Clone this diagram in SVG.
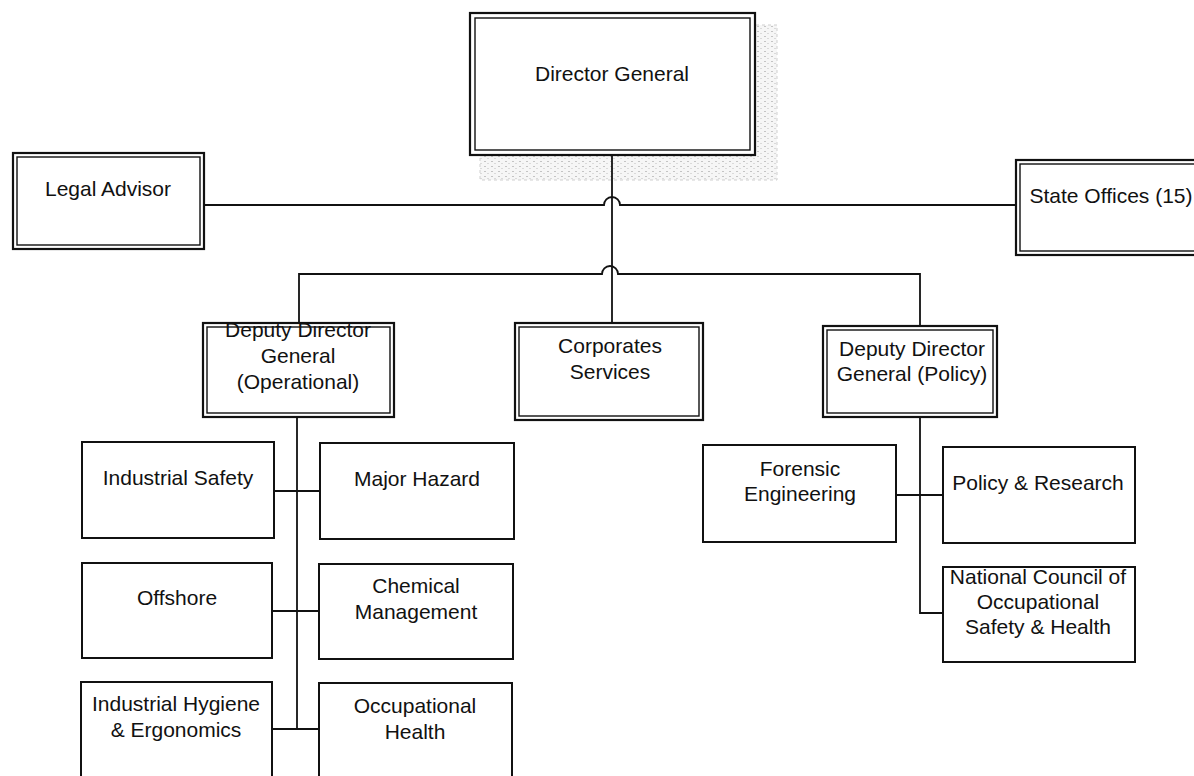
<svg xmlns="http://www.w3.org/2000/svg" width="1194" height="776" viewBox="0 0 1194 776">
<style>
.o{fill:#fff;stroke:#111;stroke-width:2.2}
.i{fill:none;stroke:#111;stroke-width:1.4}
.s{fill:#fff;stroke:#111;stroke-width:2}
.c{fill:none;stroke:#111;stroke-width:1.8}
text{font-family:"Liberation Sans",Arial,sans-serif;font-size:21px;fill:#111;text-anchor:middle}
</style>
<defs>
<pattern id="speck" width="7" height="5" patternUnits="userSpaceOnUse">
<rect width="7" height="5" fill="#f6f6f6"/>
<rect x="1" y="1" width="2" height="1" fill="#c4c4c4"/>
<rect x="4" y="3" width="2" height="1" fill="#dadada"/>
</pattern>
</defs>
<rect width="1194" height="776" fill="#fff"/>
<rect x="480" y="25" width="297" height="155" fill="url(#speck)" stroke="#cfcfcf" stroke-dasharray="3 3"/>
<g id="connectors">
<path class="c" d="M612,155 V323"/>
<path class="c" d="M204,205 H604 A8,8 0 0 1 620,205 H1016"/>
<path class="c" d="M299,323 V274 H602 A8,8 0 0 1 618,274 H920 V326"/>
<path class="c" d="M297,417 V729"/>
<path class="c" d="M274,491 H320"/>
<path class="c" d="M272,611 H319"/>
<path class="c" d="M272,729 H319"/>
<path class="c" d="M920,417 V613 H943"/>
<path class="c" d="M896,495 H943"/>
</g>
<g id="director-general">
<rect class="o" x="470" y="13" width="285" height="142"/>
<rect class="i" x="475" y="18" width="275" height="132"/>
<text x="612" y="81">Director General</text>
</g>
<g id="legal-advisor">
<rect class="o" x="13" y="153" width="191" height="96"/>
<rect class="i" x="17" y="157" width="183" height="88"/>
<text x="108" y="196">Legal Advisor</text>
</g>
<g id="state-offices">
<rect class="o" x="1016" y="160" width="190" height="95"/>
<rect class="i" x="1020" y="164" width="190" height="87"/>
<text x="1111" y="203">State Offices (15)</text>
</g>
<g id="ddg-operational">
<rect class="o" x="203" y="323" width="191" height="94"/>
<rect class="i" x="207" y="327" width="183" height="86"/>
<text x="298" y="337">Deputy Director</text>
<text x="298" y="363">General</text>
<text x="298" y="389">(Operational)</text>
</g>
<g id="corporates-services">
<rect class="o" x="515" y="323" width="188" height="97"/>
<rect class="i" x="519" y="327" width="180" height="89"/>
<text x="610" y="353">Corporates</text>
<text x="610" y="379">Services</text>
</g>
<g id="ddg-policy">
<rect class="o" x="823" y="326" width="174" height="91"/>
<rect class="i" x="827" y="330" width="166" height="83"/>
<text x="912" y="356">Deputy Director</text>
<text x="912" y="381">General (Policy)</text>
</g>
<g id="industrial-safety">
<rect class="s" x="82" y="442" width="192" height="96"/>
<text x="178" y="485">Industrial Safety</text>
</g>
<g id="major-hazard">
<rect class="s" x="320" y="443" width="194" height="96"/>
<text x="417" y="486">Major Hazard</text>
</g>
<g id="offshore">
<rect class="s" x="82" y="563" width="190" height="95"/>
<text x="177" y="605">Offshore</text>
</g>
<g id="chemical-management">
<rect class="s" x="319" y="564" width="194" height="95"/>
<text x="416" y="593">Chemical</text>
<text x="416" y="619">Management</text>
</g>
<g id="industrial-hygiene">
<rect class="s" x="81" y="682" width="191" height="100"/>
<text x="176" y="711">Industrial Hygiene</text>
<text x="176" y="737">&amp; Ergonomics</text>
</g>
<g id="occupational-health">
<rect class="s" x="319" y="683" width="193" height="100"/>
<text x="415" y="713">Occupational</text>
<text x="415" y="739">Health</text>
</g>
<g id="forensic-engineering">
<rect class="s" x="703" y="445" width="193" height="97"/>
<text x="800" y="476">Forensic</text>
<text x="800" y="501">Engineering</text>
</g>
<g id="policy-research">
<rect class="s" x="943" y="447" width="192" height="96"/>
<text x="1038" y="490">Policy &amp; Research</text>
</g>
<g id="ncosh">
<rect class="s" x="943" y="567" width="192" height="95"/>
<text x="1038" y="584">National Council of</text>
<text x="1038" y="609">Occupational</text>
<text x="1038" y="634">Safety &amp; Health</text>
</g>
</svg>
